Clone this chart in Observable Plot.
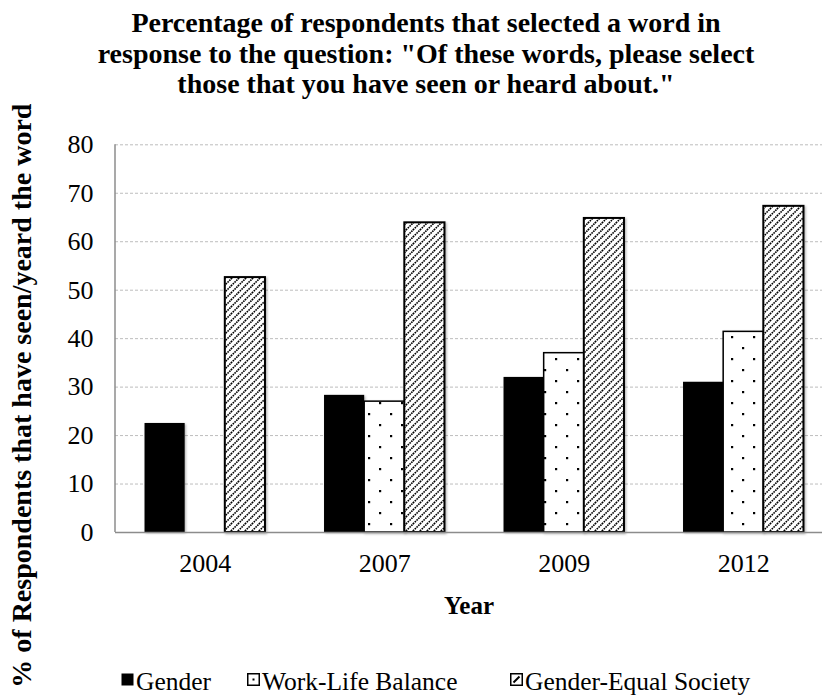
<!DOCTYPE html>
<html>
<head>
<meta charset="utf-8">
<script src="https://cdn.jsdelivr.net/npm/d3@7"></script>
<script src="https://cdn.jsdelivr.net/npm/@observablehq/plot@0.6"></script>
<style>
  body { margin: 0; background: #fff; font-family: "Liberation Serif", "Times New Roman", serif; color: #000; }
  #wrap { position: relative; width: 822px; height: 696px; overflow: hidden; }
  #chart { position: absolute; left: 0; top: 90px; }
  #chart svg text { font-family: "Liberation Serif", "Times New Roman", serif !important; }
  .title { position: absolute; left: 26px; width: 800px; top: 8px; text-align: center;
           font-weight: bold; font-size: 28px; line-height: 30.5px; white-space: nowrap; z-index: 2; }
  .legend { position: absolute; top: 668px; left: 0; width: 822px; height: 28px; font-size: 25.5px; z-index: 2; }
  .item { position: absolute; top: 0; height: 28px; line-height: 28px; display: flex; align-items: center;
          white-space: nowrap; font-family: "Liberation Serif", "Times New Roman", serif; }
  .item svg { margin-right: 2px; transform: translateY(-3px); }
</style>
</head>
<body>
<div id="wrap">
  <div class="title">Percentage of respondents that selected a word in<br>response to the question: "Of these words, please select<br>those that you have seen or heard about."</div>
  <div id="chart"></div>
  <div class="legend" id="legend"></div>
</div>
<script>
// Survey years and the three words respondents were asked about
const years = ["2004", "2007", "2009", "2012"];
const seriesNames = ["Gender", "Work-Life Balance", "Gender-Equal Society"];
const gender = [22.5, 28.3, 32.0, 31.0];
const workLifeBalance = [null, 27.0, 37.0, 41.4];
const genderEqualSociety = [52.6, 63.9, 64.8, 67.3];
const yTicks = [0, 10, 20, 30, 40, 50, 60, 70, 80];
const yLabel = "% of Respondents that have seen/yeard the word";
const xLabel = "Year";

// long-format rows built from the arrays above
const seriesValues = [gender, workLifeBalance, genderEqualSociety];
const rows = seriesNames.flatMap((s, i) =>
  years.map((y, j) => ({year: y, series: s, value: seriesValues[i][j]}))
).filter(d => d.value != null);

const W = 822, H = 606;
const mTop = 54.3, mBottom = 164, mLeft = 115;
const xRange = [mLeft, 833];
const padInner = 0.329, padOuter = padInner / 2;
const step = (xRange[1] - xRange[0]) / (years.length - padInner + 2 * padOuter);
const barW = step * (1 - padInner) / 3;

const fills = ["#000", "url(#dots)", "url(#hatch)"];
const strokes = ["none", "#000", "#000"];
const strokeWidths = [0, 1.5, 2];

// one bar mark per series, each occupying its third of the year's band
const bars = seriesNames.map((s, i) =>
  Plot.barY(rows.filter(d => d.series === s), {
    x: "year", y: "value",
    fill: fills[i],
    stroke: strokes[i],
    strokeWidth: strokeWidths[i],
    insetLeft: i * barW,
    insetRight: (2 - i) * barW
  })
);

const chart = Plot.plot({
  width: W,
  height: H,
  marginLeft: mLeft,
  marginRight: 0,
  marginTop: mTop,
  marginBottom: mBottom,
  style: {fontFamily: "'Liberation Serif', 'Times New Roman', serif", fontSize: "26px", color: "#000", background: "transparent", overflow: "visible"},
  x: {type: "band", domain: years, range: xRange, paddingInner: padInner, paddingOuter: padOuter, round: false, label: null},
  y: {domain: [0, 80], label: null},
  marks: [
    Plot.ruleY(yTicks.filter(t => t > 0), {stroke: "#bdbdbd", strokeWidth: 1, strokeDasharray: "3,2"}),
    ...bars,
    Plot.ruleY([0], {stroke: "#8c8c8c", strokeWidth: 1.5}),
    Plot.axisY({ticks: yTicks, tickSize: 0, tickPadding: 22, label: null, fontSize: 26}),
    Plot.axisX({tickSize: 0, tickPadding: 21, label: null, fontSize: 26}),
    Plot.text([xLabel], {frameAnchor: "bottom", dy: 81, fontWeight: "bold", fontSize: 25}),
    Plot.text([yLabel], {frameAnchor: "left", textAnchor: "middle", rotate: -90, dx: -93, dy: 57, fontWeight: "bold", fontSize: 28})
  ]
});

const svg = d3.select(chart);

// left axis line
svg.append("line")
  .attr("x1", mLeft).attr("x2", mLeft).attr("y1", mTop).attr("y2", H - mBottom)
  .attr("stroke", "#8c8c8c").attr("stroke-width", 1.5);

const defs = svg.insert("defs", ":first-child");

// soft shadow under the bars
const shadow = defs.append("filter").attr("id", "barShadow")
  .attr("x", "-10%").attr("y", "-10%").attr("width", "130%").attr("height", "130%");
shadow.append("feDropShadow").attr("dx", 1.2).attr("dy", 1.2).attr("stdDeviation", 0.9)
  .attr("flood-color", "#000").attr("flood-opacity", 0.3);
svg.selectAll("g[aria-label='bar']").attr("filter", "url(#barShadow)");

// fill patterns used by the bars
const dots = defs.append("pattern").attr("id", "dots").attr("patternUnits", "userSpaceOnUse")
  .attr("width", 22).attr("height", 22);
dots.append("rect").attr("width", 22).attr("height", 22).attr("fill", "#fff");
dots.append("rect").attr("x", 5).attr("y", 4).attr("width", 2.2).attr("height", 2.2).attr("fill", "#000");
dots.append("rect").attr("x", 16).attr("y", 15).attr("width", 2.2).attr("height", 2.2).attr("fill", "#000");

const hatch = defs.append("pattern").attr("id", "hatch").attr("patternUnits", "userSpaceOnUse")
  .attr("width", 7).attr("height", 7);
hatch.append("rect").attr("width", 7).attr("height", 7).attr("fill", "#fff");
hatch.append("path").attr("d", "M-2,2 L2,-2 M0,7 L7,0 M5,9 L9,5")
  .attr("stroke", "#000").attr("stroke-width", 1.6).attr("stroke-dasharray", "1.6,0.9");

document.getElementById("chart").appendChild(chart);

// legend
const legendX = [121, 247, 510];
const legend = d3.select("#legend");
seriesNames.forEach((name, i) => {
  const item = legend.append("div").attr("class", "item").style("left", legendX[i] + "px");
  const sw = item.append("svg").attr("width", 13).attr("height", 13);
  if (i === 0) {
    sw.append("rect").attr("x", 0.5).attr("y", 0.5).attr("width", 12).attr("height", 12).attr("fill", "#000");
  } else {
    sw.append("rect").attr("x", 0.75).attr("y", 0.75).attr("width", 11.5).attr("height", 11.5)
      .attr("fill", "#fff").attr("stroke", "#000").attr("stroke-width", 1.5);
    if (i === 1) {
      sw.append("rect").attr("x", 5.5).attr("y", 5.5).attr("width", 2).attr("height", 2).attr("fill", "#000");
    } else {
      sw.append("path").attr("d", "M3.5,9.5 L9.5,3.5").attr("stroke", "#000").attr("stroke-width", 2);
    }
  }
  item.append("span").text(name);
});
</script>
</body>
</html>
